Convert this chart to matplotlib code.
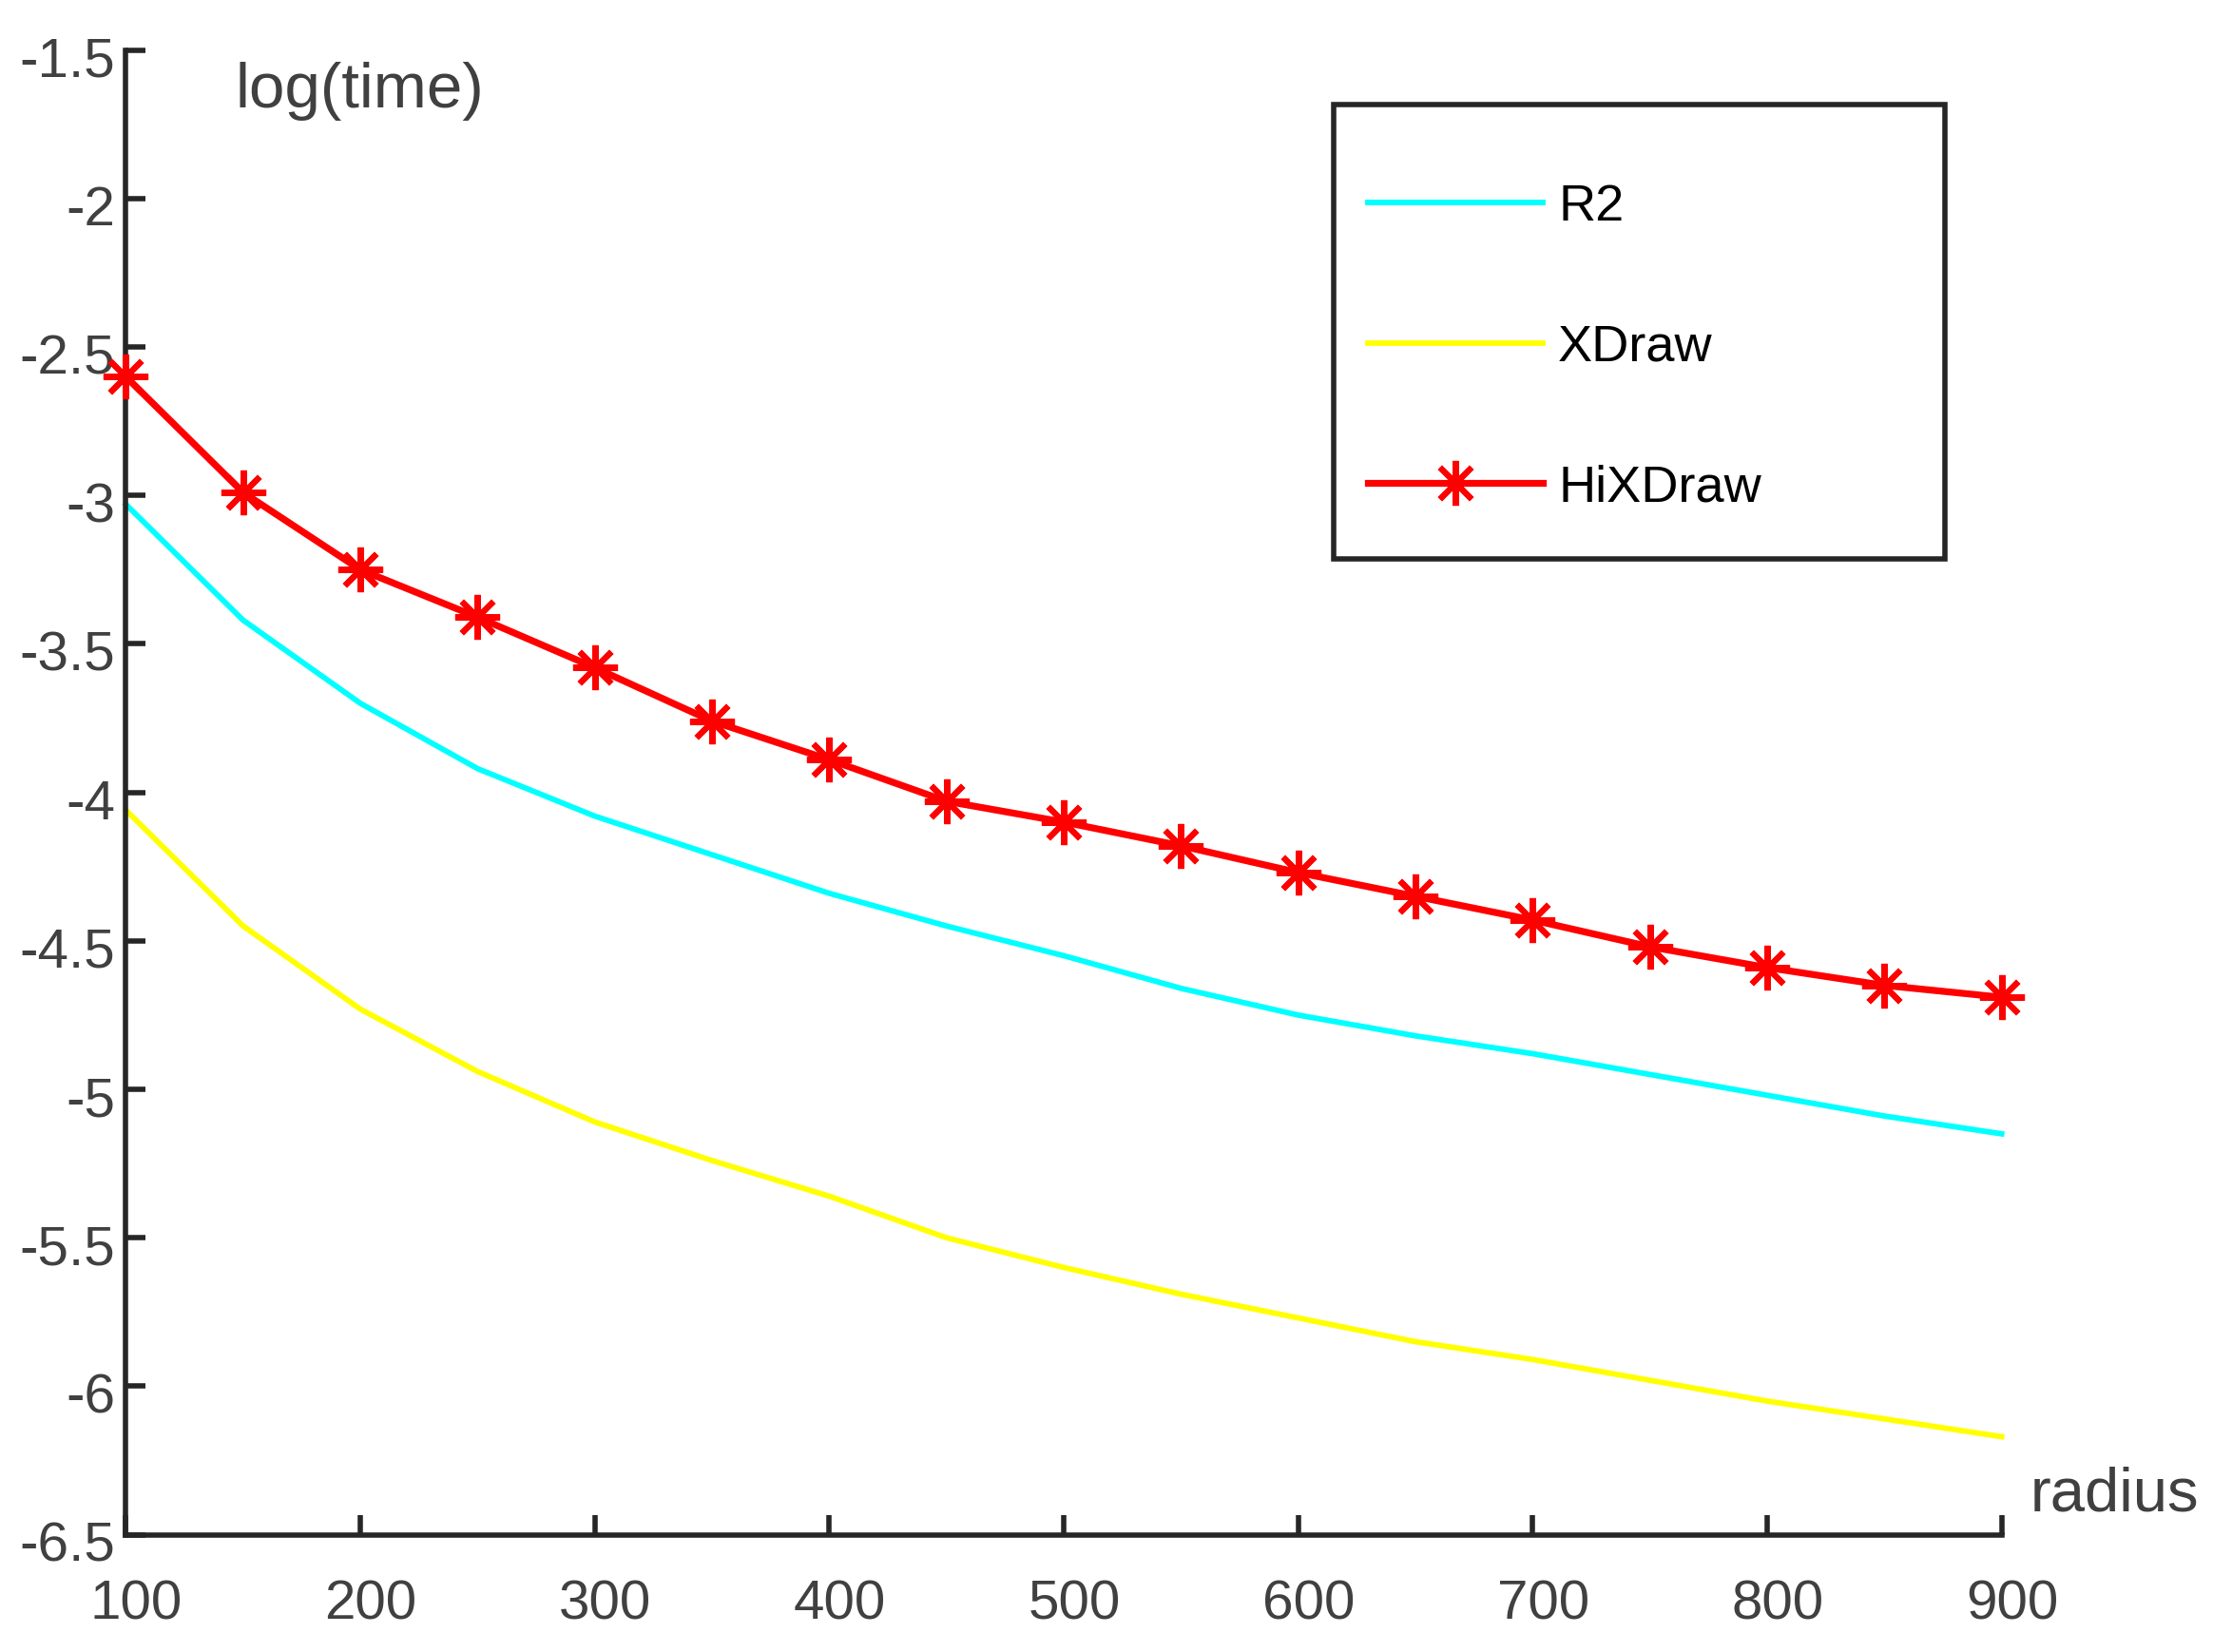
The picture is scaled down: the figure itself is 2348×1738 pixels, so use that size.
import matplotlib
matplotlib.use("Agg")
import matplotlib.pyplot as plt
from matplotlib.patches import Rectangle
from matplotlib.transforms import ScaledTranslation

radius = [100, 150, 200, 250, 300, 350, 400, 450, 500, 550, 600, 650, 700, 750, 800, 850, 900]
r2 = [-3.03, -3.42, -3.70, -3.92, -4.08, -4.21, -4.34, -4.45, -4.55, -4.66, -4.75, -4.82, -4.88, -4.95, -5.02, -5.09, -5.15]
xdraw = [-4.06, -4.45, -4.73, -4.94, -5.11, -5.24, -5.36, -5.50, -5.60, -5.69, -5.77, -5.85, -5.91, -5.98, -6.05, -6.11, -6.17]
hixdraw = [-2.60, -2.99, -3.25, -3.41, -3.58, -3.76, -3.89, -4.03, -4.10, -4.18, -4.27, -4.35, -4.43, -4.52, -4.59, -4.65, -4.69]
xticks = [100, 200, 300, 400, 500, 600, 700, 800, 900]
yticks = [-6.5, -6, -5.5, -5, -4.5, -4, -3.5, -3, -2.5, -2, -1.5]
ytick_labels = ["-6.5", "-6", "-5.5", "-5", "-4.5", "-4", "-3.5", "-3", "-2.5", "-2", "-1.5"]

plt.rcParams['font.family'] = ['Liberation Sans', 'DejaVu Sans']

fig = plt.figure(figsize=(23.48, 17.38), dpi=100)
ax = fig.add_axes([0.0564, 0.0710, 0.8404, 0.8987])

ax.plot(radius, r2, color='#00FFFF', lw=4.2, label='R2', clip_on=False)
ax.plot(radius, xdraw, color='#FFFF00', lw=4.2, label='XDraw', clip_on=False)
ax.plot(radius, hixdraw, color='#FF0000', lw=5.2, marker=(8, 2, 0), markersize=34,
        markeredgewidth=4.5, label='HiXDraw', clip_on=False, zorder=5)

ax.set_xlim(100, 900)
ax.set_ylim(-6.5, -1.5)
ax.set_xticks(xticks)
ax.set_yticks(yticks)
ax.set_yticklabels(ytick_labels)

for s in ['top', 'right']:
    ax.spines[s].set_visible(False)
for s in ['left', 'bottom']:
    ax.spines[s].set_linewidth(4)
    ax.spines[s].set_color('#262626')

ax.tick_params(axis='both', direction='in', length=15, width=4, color='#262626',
               labelsize=42, labelcolor='#404040')
ax.tick_params(axis='x', pad=34)
ax.tick_params(axis='y', pad=8)

# small offsets of the tick labels, as in the reference rendering
xoff = ScaledTranslation(0.11, 0, fig.dpi_scale_trans)
yoff = ScaledTranslation(0, -0.07, fig.dpi_scale_trans)
for lab in ax.get_xticklabels():
    lab.set_transform(lab.get_transform() + xoff)
for lab in ax.get_yticklabels():
    lab.set_transform(lab.get_transform() + yoff)

ax.text(0.0585, 0.972, 'log(time)', transform=ax.transAxes, fontsize=48.5,
        color='#404040', ha='left', va='center')
ax.text(1.015, 0.027, 'radius', transform=ax.transAxes, fontsize=47,
        color='#404040', ha='left', va='center', clip_on=False)

leg = ax.legend(loc='upper left', bbox_to_anchor=(0.662, 0.910), frameon=False,
                fontsize=39, handlelength=3.4, handletextpad=0.3, labelspacing=1.8,
                borderpad=0, borderaxespad=0)
for t in leg.get_texts():
    t.set_color('black')

ax.add_patch(Rectangle((0.644, 0.657), 0.326, 0.306, transform=ax.transAxes,
                       fill=False, edgecolor='#262626', lw=4, clip_on=False, zorder=6))

fig.savefig('out.png', dpi=100)
